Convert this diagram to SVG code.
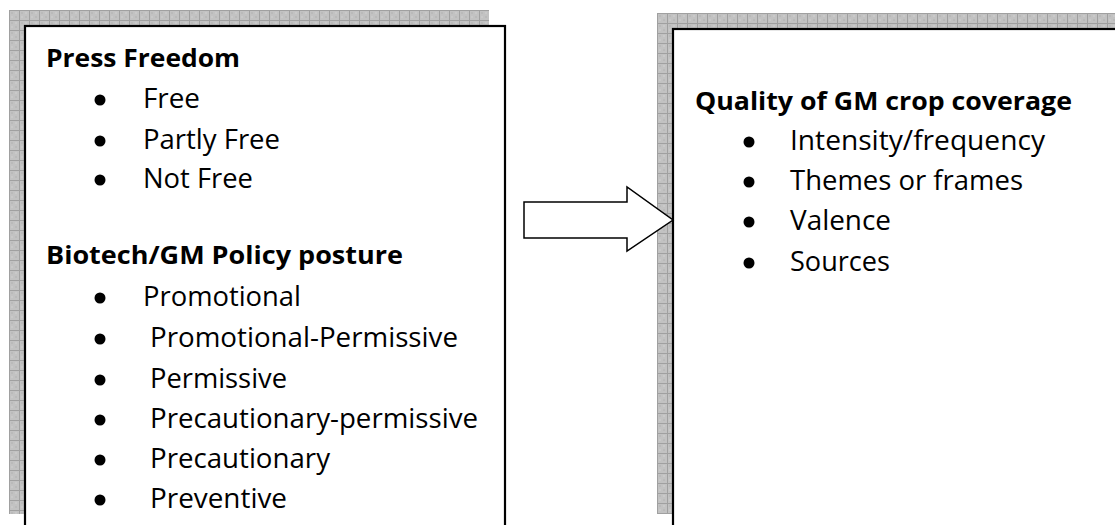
<svg xmlns="http://www.w3.org/2000/svg" width="1115" height="525" viewBox="0 0 1115 525">
  <style>
    .box { fill: #ffffff; stroke: #000000; stroke-width: 2.2; }
    .head { font-family: "Open Sans", "Liberation Sans", sans-serif; font-weight: bold; font-size: 25px; fill: #000; }
    .item { font-family: "Open Sans", "Liberation Sans", sans-serif; font-size: 27px; fill: #000; }
    .bul { fill: #000; }
    .arrow { fill: #ffffff; stroke: #000000; stroke-width: 1.5; stroke-linejoin: miter; }
  </style>
  <defs>
    <pattern id="gridL" patternUnits="userSpaceOnUse" x="9" y="10" width="10" height="10">
      <rect width="10" height="10" fill="#c2c2c2"/>
      <rect x="2" y="2" width="2" height="2" fill="#bababa"/>
      <rect x="6" y="6" width="2" height="2" fill="#bababa"/>
      <rect x="6" y="2" width="2" height="2" fill="#c9c9c9"/>
      <rect x="2" y="6" width="2" height="2" fill="#c9c9c9"/>
      <path d="M0.5 0V10M0 0.5H10" stroke="#a0a0a0" stroke-width="1"/>
    </pattern>
    <pattern id="gridR" patternUnits="userSpaceOnUse" x="657" y="13" width="10" height="10">
      <rect width="10" height="10" fill="#c2c2c2"/>
      <rect x="2" y="2" width="2" height="2" fill="#bababa"/>
      <rect x="6" y="6" width="2" height="2" fill="#bababa"/>
      <rect x="6" y="2" width="2" height="2" fill="#c9c9c9"/>
      <rect x="2" y="6" width="2" height="2" fill="#c9c9c9"/>
      <path d="M0.5 0V10M0 0.5H10" stroke="#a0a0a0" stroke-width="1"/>
    </pattern>
  </defs>
  <rect width="1115" height="525" fill="#ffffff"/>

  <g id="node-left">
    <rect x="9" y="10" width="480" height="504" fill="url(#gridL)"/>
    <rect class="box" x="25" y="26" width="480" height="520"/>
    <text class="head" x="46" y="67" textLength="194" lengthAdjust="spacingAndGlyphs">Press Freedom</text>
    <circle class="bul" cx="100" cy="100" r="5.5"/>
    <text class="item" x="143" y="108" textLength="57" lengthAdjust="spacingAndGlyphs">Free</text>
    <circle class="bul" cx="100" cy="141" r="5.5"/>
    <text class="item" x="143" y="149" textLength="137" lengthAdjust="spacingAndGlyphs">Partly Free</text>
    <circle class="bul" cx="100" cy="180" r="5.5"/>
    <text class="item" x="143" y="188" textLength="110" lengthAdjust="spacingAndGlyphs">Not Free</text>

    <text class="head" x="46" y="264" textLength="357" lengthAdjust="spacingAndGlyphs">Biotech/GM Policy posture</text>
    <circle class="bul" cx="100" cy="298" r="5.5"/>
    <text class="item" x="143" y="306" textLength="158" lengthAdjust="spacingAndGlyphs">Promotional</text>
    <circle class="bul" cx="100" cy="339" r="5.5"/>
    <text class="item" x="150" y="347" textLength="308" lengthAdjust="spacingAndGlyphs">Promotional-Permissive</text>
    <circle class="bul" cx="100" cy="380" r="5.5"/>
    <text class="item" x="150" y="388" textLength="137" lengthAdjust="spacingAndGlyphs">Permissive</text>
    <circle class="bul" cx="100" cy="420" r="5.5"/>
    <text class="item" x="150" y="428" textLength="328" lengthAdjust="spacingAndGlyphs">Precautionary-permissive</text>
    <circle class="bul" cx="100" cy="460" r="5.5"/>
    <text class="item" x="150" y="468" textLength="180" lengthAdjust="spacingAndGlyphs">Precautionary</text>
    <circle class="bul" cx="100" cy="500" r="5.5"/>
    <text class="item" x="150" y="508" textLength="137" lengthAdjust="spacingAndGlyphs">Preventive</text>
  </g>

  <g id="node-right">
    <rect x="657" y="13" width="470" height="501" fill="url(#gridR)"/>
    <rect class="box" x="673" y="29" width="470" height="520"/>
    <text class="head" x="695" y="110" textLength="377" lengthAdjust="spacingAndGlyphs">Quality of GM crop coverage</text>
    <circle class="bul" cx="749" cy="142" r="5.5"/>
    <text class="item" x="790" y="150" textLength="255" lengthAdjust="spacingAndGlyphs">Intensity/frequency</text>
    <circle class="bul" cx="749" cy="182" r="5.5"/>
    <text class="item" x="790" y="190" textLength="233" lengthAdjust="spacingAndGlyphs">Themes or frames</text>
    <circle class="bul" cx="749" cy="222" r="5.5"/>
    <text class="item" x="790" y="230" textLength="101" lengthAdjust="spacingAndGlyphs">Valence</text>
    <circle class="bul" cx="749" cy="263" r="5.5"/>
    <text class="item" x="790" y="271" textLength="100" lengthAdjust="spacingAndGlyphs">Sources</text>
  </g>

  <g id="connectors">
    <path class="arrow" d="M524 202H627V187L673 220L627 251V238H524Z"/>
  </g>
</svg>
